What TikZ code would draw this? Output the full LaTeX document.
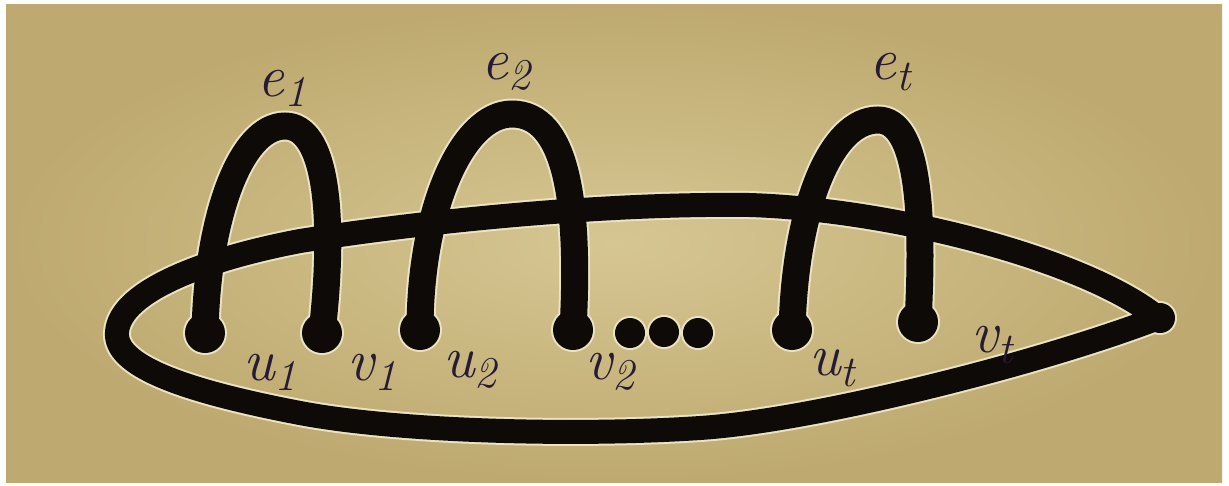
\documentclass[tikz,border=0pt]{standalone}
\definecolor{paperin}{RGB}{214,198,146}
\definecolor{paperout}{RGB}{190,170,112}
\definecolor{inkc}{RGB}{14,10,8}
\definecolor{haloc}{RGB}{236,228,192}
\definecolor{penc}{RGB}{38,26,52}
\tikzset{
  lab/.style={text=penc, font=\fontsize{34}{40}\selectfont\itshape, inner sep=0pt},
}
\newcommand\lbl[2]{#1\raisebox{-0.4ex}{\fontsize{25}{30}\selectfont #2}}
% #1 colour, #2 loop width, #3 arch width, #4 end-dot radius, #5 ellipsis-dot radius
\newcommand\inkpass[5]{%
  \draw[draw=#1, line width=#2, line join=round, line cap=round]
    (tip) .. controls (1090,262) and (900,210) .. (750,205)
          .. controls (600,203) and (420,222) .. (300,241)
          .. controls (210,258) and (120,290) .. (117,332)
          .. controls (114,365) and (180,390) .. (300,413)
          .. controls (400,432) and (580,436) .. (700,428)
          .. controls (820,420) and (1050,360) .. (tip) -- cycle;
  \fill[#1] (tipc) circle[radius=#5];
  \draw[draw=#1, line width=#3, line cap=round]
    (u1) .. controls (207,220) and (240,126) .. (a1)
         .. controls (325,126) and (336,210) .. (v1);
  \draw[draw=#1, line width=#3, line cap=round]
    (u2) .. controls (420,210) and (462,114) .. (a2)
         .. controls (566,114) and (580,200) .. (v2);
  \draw[draw=#1, line width=#3, line cap=round]
    (ut) .. controls (795,210) and (830,120) .. (at)
         .. controls (918,120) and (924,210) .. (vt);
  \foreach \p in {u1,v1,u2,v2,ut,vt} {\fill[#1] (\p) circle[radius=#4];}
  \foreach \p in {d1,d2,d3} {\fill[#1] (\p) circle[radius=#5];}
}
\begin{document}
\begin{tikzpicture}[x=0.02cm,y=-0.02cm]
\useasboundingbox (0,0) rectangle (1229,485);
\fill[white] (0,0) rectangle (1229,485);
\shade[inner color=paperin, outer color=paperout] (6,4) rectangle (1222,482);

\coordinate (tip) at (1158,318);
\coordinate (tipc) at (1160,318);
\coordinate (u1) at (205,333);
\coordinate (a1) at (285,126);
\coordinate (v1) at (322,333);
\coordinate (u2) at (420,330);
\coordinate (a2) at (512,114);
\coordinate (v2) at (573,330);
\coordinate (ut) at (792,330);
\coordinate (at) at (878,120);
\coordinate (vt) at (918,322);
\coordinate (d1) at (630,333);
\coordinate (d2) at (664,332);
\coordinate (d3) at (698,333);

\inkpass{haloc}{0.56cm}{0.62cm}{0.44cm}{0.34cm}
\inkpass{inkc}{0.48cm}{0.54cm}{0.40cm}{0.30cm}

\node[lab] (le1) at (282,88) {\lbl{e}{1}};
\node[lab] (le2) at (506,72) {\lbl{e}{2}};
\node[lab] (let) at (890,72) {\lbl{e}{t}};
\node[lab] (lu1) at (270,372) {\lbl{u}{1}};
\node[lab] (lv1) at (372,372) {\lbl{v}{1}};
\node[lab] (lu2) at (470,370) {\lbl{u}{2}};
\node[lab] (lv2) at (610,372) {\lbl{v}{2}};
\node[lab] (lut) at (832,368) {\lbl{u}{t}};
\node[lab] (lvt) at (992,345) {\lbl{v}{t}};
\end{tikzpicture}
\end{document}
